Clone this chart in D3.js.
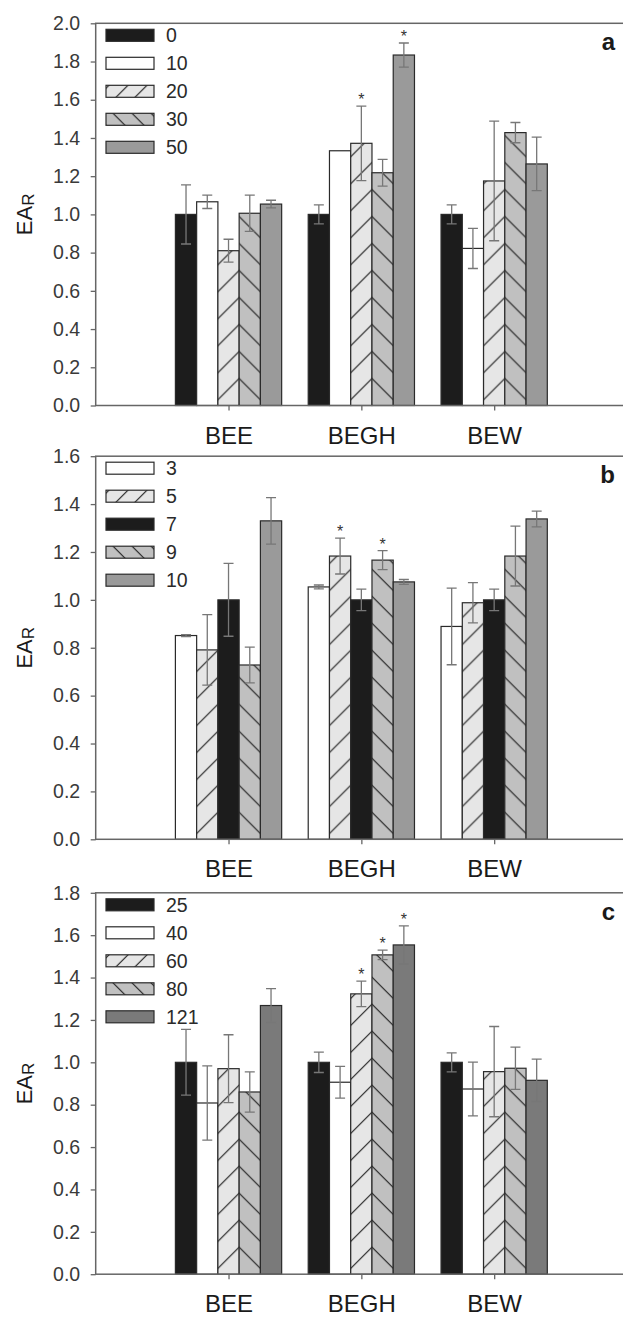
<!DOCTYPE html>
<html>
<head>
<meta charset="utf-8">
<script src="https://cdn.jsdelivr.net/npm/d3@7"></script>
<style>
  html, body { margin: 0; padding: 0; background: #fff; }
  svg { display: block; }
</style>
</head>
<body>
<script>
// Treatment groups shared by all three panels
const categories = ["BEE", "BEGH", "BEW"];

// Panel a
const legendA = ["0", "10", "20", "30", "50"];
const meansA = [
  [1.00, 1.066, 0.810, 1.006, 1.054],
  [1.00, 1.333, 1.372, 1.218, 1.834],
  [1.00, 0.822, 1.175, 1.428, 1.264]
];
const errorsA = [
  [0.155, 0.035, 0.060, 0.095, 0.020],
  [0.050, 0.000, 0.195, 0.070, 0.063],
  [0.050, 0.105, 0.313, 0.053, 0.140]
];
const starsA = [
  [0, 0, 0, 0, 0],
  [0, 0, 1, 0, 1],
  [0, 0, 0, 0, 0]
];
const yTicksA = [0.0, 0.2, 0.4, 0.6, 0.8, 1.0, 1.2, 1.4, 1.6, 1.8, 2.0];

// Panel b
const legendB = ["3", "5", "7", "9", "10"];
const meansB = [
  [0.851, 0.791, 1.00, 0.728, 1.330],
  [1.054, 1.183, 1.00, 1.166, 1.075],
  [0.889, 0.988, 1.00, 1.183, 1.338]
];
const errorsB = [
  [0.004, 0.147, 0.152, 0.075, 0.097],
  [0.008, 0.075, 0.045, 0.040, 0.010],
  [0.160, 0.084, 0.045, 0.125, 0.033]
];
const starsB = [
  [0, 0, 0, 0, 0],
  [0, 1, 0, 1, 0],
  [0, 0, 0, 0, 0]
];
const yTicksB = [0.0, 0.2, 0.4, 0.6, 0.8, 1.0, 1.2, 1.4, 1.6];

// Panel c
const legendC = ["25", "40", "60", "80", "121"];
const meansC = [
  [1.00, 0.808, 0.970, 0.860, 1.268],
  [1.00, 0.906, 1.323, 1.507, 1.554],
  [1.00, 0.874, 0.956, 0.972, 0.915]
];
const errorsC = [
  [0.155, 0.175, 0.160, 0.095, 0.080],
  [0.048, 0.075, 0.060, 0.022, 0.090],
  [0.045, 0.127, 0.213, 0.100, 0.100]
];
const starsC = [
  [0, 0, 0, 0, 0],
  [0, 0, 1, 1, 1],
  [0, 0, 0, 0, 0]
];
const yTicksC = [0.0, 0.2, 0.4, 0.6, 0.8, 1.0, 1.2, 1.4, 1.6, 1.8];

// ---- drawing ----
const W = 623, H = 1318;
const FONT = "'Liberation Sans', Arial, Helvetica, sans-serif";
const fills = {
  black: "#1c1c1c", white: "#ffffff", fwd: "#e6e6e6",
  back: "#c0c0c0", gray: "#9a9a9a", dark: "#7a7a7a"
};

const panels = [
  { tag: "a", top: 23.3, bottom: 405.5, ymax: 2.0, ticks: yTicksA, legend: legendA,
    means: meansA, errors: errorsA, stars: starsA,
    kinds: ["black", "white", "fwd", "back", "gray"] },
  { tag: "b", top: 456.2, bottom: 839.3, ymax: 1.6, ticks: yTicksB, legend: legendB,
    means: meansB, errors: errorsB, stars: starsB,
    kinds: ["white", "fwd", "black", "back", "gray"] },
  { tag: "c", top: 892.8, bottom: 1274.2, ymax: 1.8, ticks: yTicksC, legend: legendC,
    means: meansC, errors: errorsC, stars: starsC,
    kinds: ["black", "white", "fwd", "back", "dark"] }
];

const svg = d3.select("body").append("svg")
  .attr("width", W).attr("height", H)
  .style("font-family", FONT);
svg.append("rect").attr("width", W).attr("height", H).attr("fill", "#fff");
const defs = svg.append("defs");

// Category positions sit at 1, 2, 3 on a 0..4 axis
const x = d3.scaleLinear().domain([0, 4]).range([95.7, 627]);
const barW = 0.16;   // in axis units
const nSeries = 5;

function hatch(id, kind, ax, ay, P, fill) {
  const p = defs.append("pattern")
    .attr("id", id)
    .attr("patternUnits", "userSpaceOnUse")
    .attr("width", P).attr("height", P)
    .attr("patternTransform", `translate(${ax},${ay})`);
  p.append("rect").attr("width", P).attr("height", P).attr("fill", fill);
  const d = kind === "fwd"
    ? `M0,${P}L${P},0M${-P / 2},${P / 2}L${P / 2},${-P / 2}M${P / 2},${1.5 * P}L${1.5 * P},${P / 2}`
    : `M0,0L${P},${P}M${P / 2},${-P / 2}L${1.5 * P},${P / 2}M${-P / 2},${P / 2}L${P / 2},${1.5 * P}`;
  p.append("path").attr("d", d)
    .attr("fill", "none").attr("stroke", "#1a1a1a").attr("stroke-width", 1.1);
  return `url(#${id})`;
}

panels.forEach((pn, pi) => {
  const y = d3.scaleLinear().domain([0, pn.ymax]).range([pn.bottom, pn.top]);
  const g = svg.append("g");

  // bars
  const bars = [];
  categories.forEach((cat, ci) => {
    pn.means[ci].forEach((v, si) => {
      const x0 = x(ci + 1 + (si - nSeries / 2) * barW);
      const x1 = x(ci + 1 + (si + 1 - nSeries / 2) * barW);
      bars.push({ ci, si, v, e: pn.errors[ci][si], star: pn.stars[ci][si], x0, x1, kind: pn.kinds[si] });
    });
  });

  bars.forEach(b => {
    let fill = fills[b.kind];
    if (b.kind === "fwd") fill = hatch(`h${pi}-${b.ci}-${b.si}`, "fwd", b.x1, pn.bottom, 27, fills.fwd);
    if (b.kind === "back") fill = hatch(`h${pi}-${b.ci}-${b.si}`, "back", b.x0, pn.bottom, 27, fills.back);
    g.append("rect")
      .attr("x", b.x0).attr("y", y(b.v))
      .attr("width", b.x1 - b.x0).attr("height", pn.bottom - y(b.v))
      .attr("fill", fill)
      .attr("stroke", "#2a2a2a").attr("stroke-width", 1.2);
  });

  // error bars
  const cap = 5;
  bars.filter(b => b.e > 0).forEach(b => {
    const cx = (b.x0 + b.x1) / 2;
    const yHi = y(b.v + b.e), yLo = y(b.v - b.e);
    g.append("path")
      .attr("d", `M${cx},${yHi}L${cx},${yLo}M${cx - cap},${yHi}L${cx + cap},${yHi}M${cx - cap},${yLo}L${cx + cap},${yLo}`)
      .attr("fill", "none").attr("stroke", "#777").attr("stroke-width", 1.3);
  });

  // significance marks
  bars.filter(b => b.star).forEach(b => {
    g.append("text")
      .attr("x", (b.x0 + b.x1) / 2).attr("y", y(b.v + b.e) - 1)
      .attr("text-anchor", "middle")
      .attr("font-size", 16).attr("fill", "#333")
      .text("*");
  });

  // frame
  g.append("rect")
    .attr("x", x(0)).attr("y", pn.top)
    .attr("width", x(4) - x(0)).attr("height", pn.bottom - pn.top)
    .attr("fill", "none").attr("stroke", "#666").attr("stroke-width", 1.5);

  // y axis
  const ya = g.append("g").attr("transform", `translate(${x(0)},0)`)
    .call(d3.axisLeft(y).tickValues(pn.ticks).tickFormat(d3.format(".1f"))
      .tickSize(5).tickPadding(10.5).tickSizeOuter(0));
  ya.select(".domain").remove();
  ya.selectAll("line").attr("stroke", "#666").attr("stroke-width", 1.3);
  ya.selectAll("text").attr("font-size", 19.5).attr("fill", "#3a3a3a")
    .style("font-family", FONT);

  // x axis
  const xa = g.append("g").attr("transform", `translate(0,${pn.bottom})`)
    .call(d3.axisBottom(x).tickValues([1, 2, 3]).tickFormat(d => categories[d - 1])
      .tickSize(5).tickPadding(16).tickSizeOuter(0));
  xa.select(".domain").remove();
  xa.selectAll("line").attr("stroke", "#666").attr("stroke-width", 1.3);
  xa.selectAll("text").attr("font-size", 24).attr("fill", "#1a1a1a")
    .style("font-family", FONT);

  // y label: EA with subscript R
  const yl = g.append("text")
    .attr("transform", `translate(32,${(pn.top + pn.bottom) / 2}) rotate(-90)`)
    .attr("text-anchor", "middle").attr("fill", "#1a1a1a");
  yl.append("tspan").attr("font-size", 22).text("EA");
  yl.append("tspan").attr("font-size", 17).attr("dy", 2).text("R");

  // panel letter
  g.append("text")
    .attr("x", 615).attr("y", pn.top + 27)
    .attr("text-anchor", "end")
    .attr("font-size", 24).attr("font-weight", "bold").attr("fill", "#1a1a1a")
    .text(pn.tag);

  // legend
  const lg = g.append("g");
  pn.legend.forEach((lab, si) => {
    const ly = pn.top + 6 + si * 28;
    const kind = pn.kinds[si];
    let fill = fills[kind];
    if (kind === "fwd" || kind === "back") {
      fill = hatch(`lg${pi}-${si}`, kind, 106 + (kind === "fwd" ? 48 : 0), ly + 12, 19, fills[kind]);
    }
    lg.append("rect")
      .attr("x", 106).attr("y", ly).attr("width", 48).attr("height", 12)
      .attr("fill", fill).attr("stroke", "#2a2a2a").attr("stroke-width", 1.2);
    lg.append("text")
      .attr("x", 166).attr("y", ly + 6).attr("dy", "0.36em")
      .attr("font-size", 19.5).attr("fill", "#2a2a2a")
      .text(lab);
  });
});
</script>
</body>
</html>
